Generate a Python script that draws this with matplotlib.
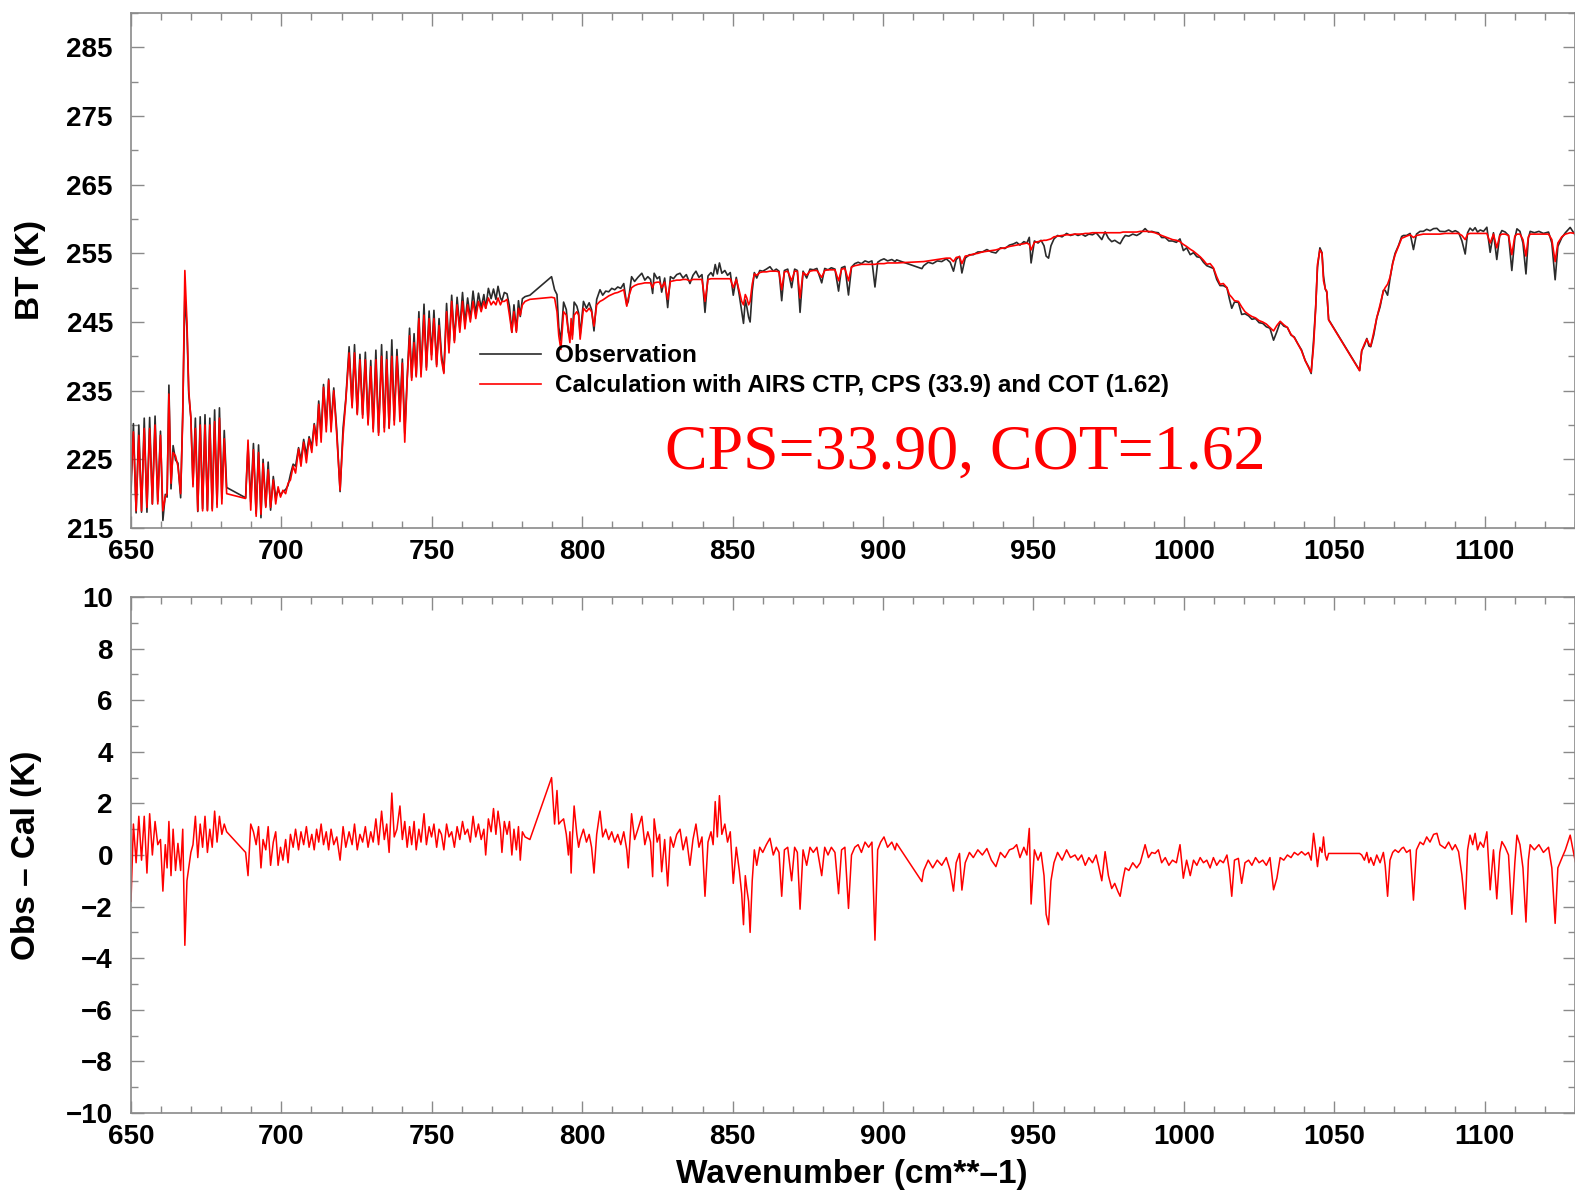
#!/usr/bin/env python3

# AIRS spectrum: observed vs calculated brightness temperature
import matplotlib
matplotlib.use('Agg')
from matplotlib import pyplot as plt
from matplotlib.ticker import MultipleLocator
import numpy as np

# wavenumber (cm-1), calculated BT (K) and obs - cal (K)
wn_a = [650.0, 650.8, 651.7, 652.6, 653.5, 654.4, 655.3, 656.2, 657.1, 658.0,
        658.9, 659.8, 660.6, 661.4, 662.0, 662.6, 663.3, 664.0, 664.8, 665.6,
        666.5, 667.2, 667.9, 668.6, 669.2, 669.9, 670.6, 671.4, 672.2, 673.0,
        673.8, 674.6, 675.4, 676.2, 677.0, 677.8, 678.6, 679.4, 680.2, 681.0, 681.8]
cal_a = [222.0, 229.0, 217.5, 228.5, 217.5, 229.5, 218.0, 229.5, 218.5, 230.0,
         218.5, 228.5, 217.5, 219.5, 220.0, 234.5, 221.5, 226.0, 225.5, 224.0,
         220.0, 231.0, 252.5, 245.0, 235.0, 231.0, 221.0, 229.5, 217.5, 230.0,
         217.5, 230.0, 217.5, 230.0, 217.5, 230.5, 218.0, 231.0, 218.5, 228.0, 220.0]
dif_a = [-1.8, 1.2, -0.3, 1.5, -0.2, 1.5, -0.7, 1.6, 0.0, 1.3,
         0.4, 0.6, -1.4, 0.4, -0.5, 1.3, -0.8, 1.0, -0.6, 0.45,
         -0.6, 1.0, -3.5, -1.0, -0.5, 0.1, 0.4, 1.5, -0.1, 1.2,
         0.3, 1.5, 0.1, 1.0, 0.3, 1.7, 0.5, 1.5, 0.8, 1.2, 0.9]

wn_b = [688.1, 688.9, 689.8, 690.7, 691.6, 692.4, 693.2, 693.9, 694.8, 695.6,
        696.4, 697.3, 698.1, 698.9, 699.7, 700.5, 701.4, 702.2, 703.0, 703.9,
        704.7, 705.7, 706.5, 707.4, 708.3, 709.2, 710.1, 710.9, 711.7, 712.4,
        713.2, 714.0, 714.9, 715.7, 716.5, 717.4, 718.4, 719.5, 720.5, 721.4,
        722.5, 723.5, 724.3, 725.2, 726.1, 727.0, 727.9, 728.8, 729.7, 730.5,
        731.4, 732.3, 733.3, 734.2, 735.0, 735.8, 736.7, 737.5, 738.4, 739.4,
        740.2, 741.0, 741.8, 742.6, 743.3, 744.1, 744.8, 745.7, 746.4, 747.4,
        748.2, 749.1, 749.9, 750.7, 751.6, 752.4, 753.2, 754.0, 754.9, 755.7,
        756.6, 757.5]
cal_b = [219.3, 227.8, 217.6, 226.4, 216.7, 226.0, 217.0, 224.4, 218.0, 223.5,
         218.0, 222.0, 218.5, 221.0, 219.5, 220.5, 220.0, 221.5, 222.0, 224.0,
         223.0, 226.5, 224.0, 227.5, 224.5, 228.0, 226.0, 230.0, 227.0, 233.0,
         227.5, 235.5, 229.0, 236.5, 229.0, 235.0, 228.5, 220.5, 228.5, 233.5,
         240.5, 232.5, 240.5, 231.5, 239.5, 231.0, 239.5, 230.0, 238.5, 229.0,
         239.5, 228.5, 240.0, 229.0, 239.5, 229.5, 240.0, 230.0, 240.0, 230.5,
         239.0, 227.5, 236.5, 243.0, 236.5, 242.0, 237.0, 245.5, 237.0, 246.0,
         238.0, 245.5, 239.5, 245.5, 238.5, 244.5, 239.5, 237.5, 246.5, 240.5,
         248.0, 242.0]
dif_b = [0.1, -0.8, 1.2, 0.9, 0.4, 1.1, -0.5, 0.6, 0.2, 1.1,
         -0.4, 0.5, 0.9, -0.4, 0.3, -0.2, 0.6, -0.3, 0.8, 0.3,
         1.0, 0.2, 0.9, 0.4, 1.1, 0.3, 0.8, 0.2, 1.0, 0.5,
         1.2, 0.4, 0.9, 0.2, 1.0, 0.4, 0.7, -0.2, 1.1, 0.3,
         0.9, 0.4, 1.2, 0.2, 0.8, 0.5, 1.1, 0.3, 0.9, 0.5,
         1.4, 0.4, 1.7, 0.6, 1.2, 0.1, 2.4, 0.7, 1.0, 1.9,
         0.6, 1.3, 0.3, 1.1, 0.4, 1.3, 0.2, 1.0, 0.5, 1.6,
         0.4, 1.1, 0.7, 1.2, 0.3, 1.0, 0.8, 0.2, 1.2, 0.7,
         0.9, 0.3]

wn_c = [758.4, 759.3, 760.2, 761.0, 761.9, 762.8, 763.7, 764.6, 765.5, 766.4,
        767.3, 767.9, 768.8, 769.7, 770.5, 771.3, 772.0, 772.8, 773.3, 774.1,
        775.0, 775.8, 776.6, 777.3, 778.1, 778.8, 779.4, 780.1, 781.0, 782.6,
        789.8, 790.8, 791.6, 792.2, 792.9, 793.8, 794.7, 795.4, 795.9, 796.3,
        796.7, 797.3, 798.2, 798.8, 799.3]
cal_c = [247.5, 243.5, 248.0, 244.0, 247.5, 245.0, 248.0, 245.5, 248.0, 246.5,
         248.0, 247.0, 248.5, 247.5, 248.0, 247.5, 248.5, 247.5, 248.0, 248.0,
         248.3, 246.0, 243.5, 246.5, 243.5, 247.0, 246.0, 247.5, 248.0, 248.3,
         248.6, 248.5, 246.5, 243.0, 241.0, 246.5, 246.0, 243.5, 242.0, 245.5,
         242.5, 246.0, 246.5, 246.0, 242.5]
dif_c = [1.1, 0.6, 1.3, 0.8, 1.0, 0.5, 1.5, 0.7, 1.2, 0.6,
         1.0, 0.0, 1.4, 0.9, 1.8, 0.8, 1.7, 1.0, 0.1, 1.3,
         0.8, 1.3, 0.0, 1.0, 0.2, 1.1, -0.2, 0.9, 0.7, 0.6,
         3.0, 1.2, 2.5, 1.2, 1.3, 1.4, 0.8, 0.0, 0.9, -0.7,
         0.6, 1.9, 0.8, 0.3, 0.6]

wn_d = [800.4, 801.4, 802.3, 803.1, 803.9, 804.8, 805.9, 806.8, 807.8, 808.8,
        809.8, 810.8, 811.8, 812.8, 813.8, 814.8, 815.3, 816.4, 817.4, 818.5,
        819.8, 820.8, 821.8, 822.7, 823.4, 823.9, 824.9, 825.7, 826.4, 827.4,
        828.4, 829.3, 830.3, 831.4, 832.5, 833.5, 834.6, 835.8, 836.8, 837.8,
        838.8, 839.8, 840.8, 841.8, 842.8, 843.5, 844.2, 844.9, 845.6, 846.4,
        847.4, 848.3, 849.2, 850.2, 851.2, 852.2, 853.0, 853.6, 854.2, 854.7,
        855.3, 855.8, 856.5, 857.2, 858.0]
cal_d = [247.0, 246.5, 247.0, 246.5, 244.4, 247.5, 248.0, 248.2, 248.5, 248.8,
         249.0, 249.2, 249.3, 249.5, 249.7, 247.3, 248.5, 250.0, 250.3, 250.5,
         250.6, 250.7, 250.7, 250.7, 250.0, 250.7, 250.8, 250.8, 250.0, 250.8,
         248.3, 250.9, 251.0, 251.1, 251.1, 251.2, 251.2, 251.0, 251.2, 251.2,
         251.2, 251.2, 248.0, 251.2, 251.3, 251.3, 251.3, 251.3, 251.3, 251.3,
         251.3, 251.3, 251.3, 250.0, 251.2, 249.5, 248.0, 247.5, 249.0, 248.5,
         247.5, 248.0, 250.5, 252.0, 251.8]
dif_d = [1.0, 0.5, 0.8, 0.3, -0.7, 0.8, 1.7, 0.7, 1.0, 0.6,
         0.9, 0.5, 0.8, 0.4, 0.9, 0.2, -0.5, 1.6, 0.6, 1.0,
         1.5, 0.4, 0.9, 0.5, -0.84, 1.4, 0.5, 0.8, -0.65, 0.6,
         -1.2, 0.7, 0.3, 0.8, 1.0, 0.2, 0.7, -0.4, 0.6, 1.2,
         0.3, 0.7, -1.6, 0.5, 0.9, 0.4, 2.07, 0.7, 2.3, 0.8,
         1.2, 0.5, 0.9, -1.1, 0.3, -0.6, -1.5, -2.7, -0.8, -1.3,
         -1.8, -3.0, -1.0, 0.2, -0.4]

wn_e = [859.0, 860.0, 861.2, 862.4, 863.5, 864.5, 865.4, 866.3, 867.2, 868.3,
        869.6, 870.6, 871.5, 872.4, 873.4, 874.6, 875.7, 876.8, 878.0, 879.6,
        880.6, 881.7, 882.8, 884.0, 885.2, 886.2, 887.3, 888.5, 889.5, 890.6,
        891.7, 892.8, 894.0, 895.2, 896.3, 897.3, 898.2, 899.2, 900.3, 901.5,
        902.9, 904.0, 904.5, 912.9]
cal_e = [252.2, 252.3, 252.3, 252.4, 252.4, 252.4, 252.3, 249.7, 252.3, 252.4,
         251.0, 252.4, 252.4, 248.5, 252.2, 251.8, 252.4, 252.5, 252.5, 251.5,
         252.5, 252.6, 252.6, 252.6, 251.0, 252.7, 252.8, 251.0, 253.0, 253.2,
         253.3, 253.4, 253.4, 253.4, 253.4, 253.4, 253.5, 253.5, 253.5, 253.6,
         253.6, 253.6, 253.6, 253.8]
dif_e = [0.3, 0.1, 0.4, 0.65, 0.0, 0.3, 0.1, -1.6, 0.2, 0.3,
         -1.0, 0.3, 0.1, -2.1, 0.2, -0.4, 0.3, 0.1, 0.3, -0.8,
         0.3, 0.0, 0.3, 0.1, -1.5, 0.2, 0.3, -2.07, 0.0, 0.3,
         0.4, 0.1, 0.5, 0.3, 0.5, -3.3, 0.2, 0.5, 0.7, 0.3,
         0.5, 0.2, 0.45, -1.03]

wn_f = [913.5, 915.0, 916.5, 918.0, 919.5, 921.0, 922.3, 923.4, 924.3, 925.4,
        926.2, 927.3, 928.7, 930.0, 931.5, 933.0, 934.5, 936.0, 937.5, 939.0,
        940.5, 942.0, 943.3, 944.4, 945.5, 946.8, 947.8, 948.6, 949.2, 950.3,
        951.5, 952.5, 953.5, 954.2, 955.0, 955.8, 956.8, 958.0, 959.5, 961.0,
        962.3, 963.8]
cal_f = [253.8, 253.9, 254.0, 254.1, 254.2, 254.3, 254.3, 253.8, 254.4, 254.5,
         253.5, 254.6, 254.7, 254.9, 255.0, 255.2, 255.3, 255.4, 255.5, 255.7,
         255.8, 256.0, 256.1, 256.2, 256.3, 256.4, 256.5, 256.3, 255.5, 256.6,
         256.7, 256.8, 256.9, 256.9, 257.0, 257.1, 257.4, 257.5, 257.6, 257.7,
         257.7, 257.8]
dif_f = [-0.6, -0.2, -0.5, -0.2, -0.4, -0.1, -0.6, -1.4, -0.3, 0.06,
         -1.36, -0.3, 0.1, -0.1, 0.2, 0.0, 0.25, -0.2, -0.45, 0.1,
         -0.1, 0.2, 0.26, 0.4, -0.1, 0.3, 0.0, 1.03, -1.9, 0.2,
         -0.2, 0.1, -0.8, -2.3, -2.7, -1.0, -0.3, 0.1, -0.2, 0.2,
         -0.1, 0.0]

wn_g = [964.8, 966.0, 967.2, 968.4, 969.6, 970.8, 971.6, 972.7, 973.8, 974.9,
        976.0, 977.0, 978.0, 978.8, 979.8, 980.5, 981.7, 983.0, 984.3, 985.5,
        987.1, 988.2, 989.3, 990.4, 991.5, 992.6, 993.8, 995.0, 996.2, 997.5,
        998.7, 999.8, 1000.9, 1002.1, 1003.2, 1004.3, 1005.4, 1006.5, 1007.6, 1008.7,
        1009.8, 1010.9, 1012.0, 1013.1, 1014.3, 1015.1, 1015.9, 1016.8, 1018.1, 1019.2,
        1020.3, 1021.5, 1022.6, 1023.8, 1025.0, 1026.2, 1027.4, 1028.6, 1029.8, 1030.9,
        1032.0, 1033.2, 1034.4, 1035.6, 1036.7, 1037.9, 1039.1, 1040.3, 1041.4, 1042.3,
        1043.1, 1043.8, 1044.4, 1045.2, 1045.9, 1046.4, 1047.0, 1047.5, 1048.1]
cal_g = [257.8, 257.8, 257.9, 257.9, 258.0, 258.0, 258.0, 258.0, 258.0, 258.0,
         258.0, 258.0, 258.0, 258.0, 258.1, 258.1, 258.1, 258.1, 258.1, 258.2,
         258.2, 258.2, 258.1, 258.0, 257.8, 257.6, 257.4, 257.2, 257.0, 256.9,
         256.7, 256.3, 256.0, 255.6, 255.3, 254.9, 254.5, 254.0, 253.4, 253.5,
         252.9, 251.6, 250.5, 250.6, 250.0, 249.0, 248.6, 248.1, 248.0, 247.2,
         246.5, 246.1, 245.8, 245.6, 245.2, 245.0, 244.7, 244.2, 243.7, 244.5,
         245.1, 244.6, 244.2, 243.2, 242.7, 241.8, 240.8, 239.4, 238.4, 237.7,
         241.5, 247.0, 253.4, 255.5, 255.0, 251.0, 249.8, 249.5, 245.3]
dif_g = [-0.2, 0.0, -0.4, -0.1, -0.3, 0.0, -0.4, -1.0, 0.13, -0.8,
         -1.3, -1.1, -1.4, -1.6, -0.9, -0.5, -0.6, -0.3, -0.5, -0.3,
         0.4, -0.1, 0.1, 0.06, 0.2, -0.3, -0.1, -0.4, -0.2, -0.3,
         0.4, -0.9, -0.2, -0.8, -0.2, -0.4, -0.1, -0.3, -0.2, -0.5,
         -0.1, -0.4, -0.2, -0.3, 0.0, -0.6, -1.6, -0.2, -0.13, -1.1,
         -0.3, -0.2, -0.4, -0.1, -0.3, -0.2, -0.4, -0.1, -1.35, -0.9,
         -0.1, -0.2, 0.0, -0.1, 0.1, 0.0, 0.13, 0.0, 0.1, -0.2,
         0.84, 0.2, -0.45, 0.3, 0.1, 0.7, 0.0, -0.2, 0.06]

wn_h = [1058.4, 1059.1, 1060.0, 1060.8, 1061.5, 1062.1, 1063.1, 1064.1, 1065.2, 1066.3,
        1066.9, 1067.7, 1068.5, 1069.4, 1070.2, 1071.3, 1072.4, 1073.0, 1074.0, 1075.2,
        1076.3, 1077.3, 1078.5, 1079.6, 1080.7, 1081.8, 1083.0, 1084.1, 1085.1, 1086.8,
        1088.0, 1089.2, 1090.2, 1091.3, 1092.4, 1093.5, 1094.3, 1095.1, 1096.0, 1096.8,
        1097.6, 1098.5, 1099.6, 1100.7, 1101.8, 1102.9, 1104.0, 1105.0, 1105.7, 1106.8,
        1107.9, 1109.0, 1110.0, 1110.7, 1111.7, 1112.7, 1113.7, 1114.5, 1115.1, 1116.5,
        1118.0, 1119.5, 1121.2, 1122.3, 1123.4, 1124.3, 1125.6, 1126.8, 1128.4, 1130.1]
cal_h = [237.9, 240.8, 241.8, 242.5, 241.8, 241.5, 243.5, 245.6, 247.5, 249.5,
         250.0, 250.5, 251.5, 253.5, 254.8, 256.0, 257.2, 257.3, 257.5, 257.7,
         257.3, 257.6, 257.7, 257.8, 257.8, 257.8, 257.8, 257.8, 257.8, 257.9,
         257.9, 257.9, 257.9, 257.9, 257.6, 257.0, 257.8, 257.9, 257.9, 257.9,
         257.9, 257.9, 257.9, 257.9, 256.5, 257.8, 255.8, 257.6, 257.8, 257.8,
         257.6, 254.8, 257.5, 257.8, 257.8, 257.0, 254.6, 257.4, 257.8, 257.8,
         257.8, 257.8, 257.8, 257.0, 253.8, 256.5, 257.4, 257.8, 258.0, 257.9]
dif_h = [0.06, 0.0, -0.2, 0.1, -0.3, -0.1, -0.4, 0.0, -0.3, 0.1,
         -0.4, -1.6, -0.2, 0.1, 0.2, 0.1, 0.26, 0.3, 0.1, 0.2,
         -1.75, 0.2, 0.5, 0.4, 0.7, 0.5, 0.8, 0.84, 0.4, 0.26,
         0.5, 0.2, 0.4, 0.13, -0.77, -2.1, 0.2, 0.77, 0.4, 0.84,
         0.2, 0.5, 0.3, 0.9, -1.35, 0.2, -1.7, 0.1, 0.52, 0.3,
         0.0, -2.3, -0.3, 0.77, 0.4, -0.5, -2.6, -0.2, 0.4, 0.2,
         0.4, 0.1, 0.3, -0.5, -2.65, -0.5, -0.13, 0.2, 0.77, -0.26]

wn = np.array(wn_a + wn_b + wn_c + wn_d + wn_e + wn_f + wn_g + wn_h)
bt_cal = np.array(cal_a + cal_b + cal_c + cal_d + cal_e + cal_f + cal_g + cal_h)
obs_cal = np.array(dif_a + dif_b + dif_c + dif_d + dif_e + dif_f + dif_g + dif_h)
bt_obs = bt_cal + obs_cal

plt.rcParams['font.family'] = ['Liberation Sans', 'DejaVu Sans']
plt.rcParams['font.weight'] = 'bold'

W, H = 1575, 1197
fig = plt.figure(figsize=(W / 100, H / 100), dpi=100)
ax1 = fig.add_axes([131 / W, 1 - 528 / H, 1444 / W, 515 / H])
ax2 = fig.add_axes([131 / W, 1 - 1113 / H, 1444 / W, 516 / H])


def style(ax, ymaj, ymin):
    for s in ax.spines.values():
        s.set_color('#8a8a8a')
        s.set_linewidth(1.2)
    ax.xaxis.set_major_locator(MultipleLocator(50))
    ax.xaxis.set_minor_locator(MultipleLocator(10))
    ax.yaxis.set_major_locator(MultipleLocator(ymaj))
    ax.yaxis.set_minor_locator(MultipleLocator(ymin))
    ax.tick_params(which='both', direction='in', top=True, right=True,
                   color='#8a8a8a', labelsize=20)
    ax.tick_params(which='major', length=9, width=1)
    ax.tick_params(which='minor', length=5, width=1)
    ax.tick_params(axis='x', pad=8)
    ax.tick_params(axis='y', pad=13)
    ax.set_xlim(650, 1130)


# top panel
l_obs, = ax1.plot(wn, bt_obs, color='#2b2b2b', lw=1.2)
l_cal, = ax1.plot(wn, bt_cal, color='#ff0000', lw=1.2)
ax1.set_ylim(215, 290)
style(ax1, 10, 5)
ax1.set_yticks(np.arange(215, 290, 10))
ax1.legend([l_obs, l_cal],
           ['Observation', 'Calculation with AIRS CTP, CPS (33.9) and COT (1.62)'],
           loc='upper left', bbox_to_anchor=(0.2417, 0.357), frameon=False,
           borderpad=0, borderaxespad=0, handlelength=2.5, handletextpad=0.6,
           labelspacing=0.3, prop={'size': 17.5, 'weight': 'bold'})
ax1.text(827.5, 223.7, 'CPS=33.90, COT=1.62', color='red', fontsize=46,
         family='Liberation Serif', weight='normal', va='baseline')

# bottom panel
ax2.plot(wn, obs_cal, color='#ff0000', lw=1.1)
ax2.set_ylim(-10, 10)
style(ax2, 2, 1)

fig.text(30 / W, 1 - 270 / H, 'BT (K)', rotation=90, ha='center', va='center',
         fontsize=24, weight='bold')
fig.text(26 / W, 1 - 855 / H, 'Obs \u2013 Cal (K)', rotation=90, ha='center',
         va='center', fontsize=24, weight='bold')
fig.text(852 / W, 1 - 1174 / H, 'Wavenumber (cm**\u20131)', ha='center',
         va='center', fontsize=24, weight='bold')

plt.savefig('out.png', dpi=100)
